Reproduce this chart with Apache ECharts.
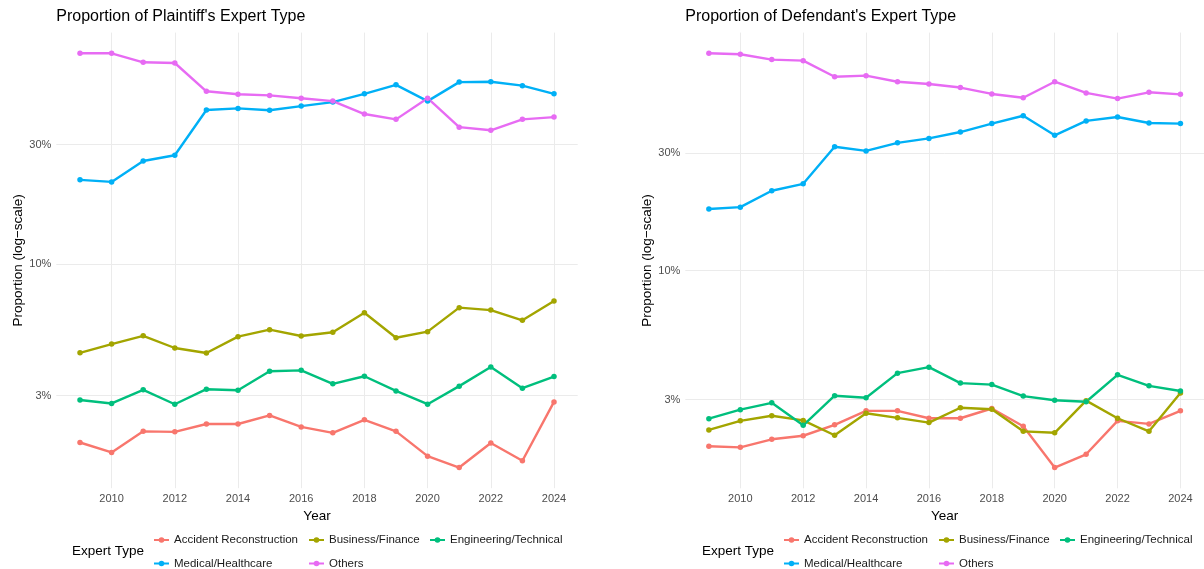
<!DOCTYPE html>
<html>
<head>
    <meta charset="UTF-8">
    <title>Expert Type Proportions</title>
    <script src="https://cdn.jsdelivr.net/npm/echarts@6/dist/echarts.min.js"></script>
</head>
<body style="margin: 0">
<div id="container" style="width: 1204px; height: 569px"></div>
<script>
    // data (percent)
    var years = [2009, 2010, 2011, 2012, 2013, 2014, 2015, 2016, 2017, 2018, 2019, 2020, 2021, 2022, 2023, 2024];
    var yearTicks = [2010, 2012, 2014, 2016, 2018, 2020, 2022, 2024];
    var propTicks = [3, 10, 30];
    var typeNames = ['Accident Reconstruction', 'Business/Finance', 'Engineering/Technical', 'Medical/Healthcare', 'Others'];
    var typeColors = ['#F8766D', '#A3A500', '#00BF7D', '#00B0F6', '#E76BF3'];

    var plaintiffAccident = [1.95, 1.78, 2.16, 2.15, 2.31, 2.31, 2.50, 2.25, 2.13, 2.40, 2.16, 1.72, 1.55, 1.94, 1.65, 2.83];
    var plaintiffBusiness = [4.44, 4.81, 5.19, 4.64, 4.43, 5.15, 5.49, 5.18, 5.36, 6.41, 5.10, 5.39, 6.72, 6.57, 5.98, 7.14];
    var plaintiffEngineering = [2.88, 2.79, 3.16, 2.77, 3.18, 3.15, 3.75, 3.78, 3.34, 3.58, 3.13, 2.77, 3.27, 3.90, 3.21, 3.57];
    var plaintiffMedical = [21.7, 21.3, 25.8, 27.2, 41.2, 41.8, 41.1, 42.7, 44.3, 47.8, 51.9, 44.7, 53.2, 53.4, 51.5, 47.8];
    var plaintiffOthers = [69.3, 69.3, 63.8, 63.4, 48.9, 47.6, 47.1, 45.9, 44.7, 39.7, 37.8, 45.9, 35.2, 34.2, 37.8, 38.6];

    var defendantAccident = [1.94, 1.92, 2.07, 2.14, 2.37, 2.70, 2.70, 2.52, 2.52, 2.76, 2.34, 1.59, 1.80, 2.46, 2.39, 2.70];
    var defendantBusiness = [2.26, 2.46, 2.58, 2.47, 2.15, 2.64, 2.53, 2.42, 2.78, 2.74, 2.23, 2.20, 2.97, 2.52, 2.23, 3.19];
    var defendantEngineering = [2.51, 2.73, 2.91, 2.36, 3.11, 3.05, 3.84, 4.06, 3.50, 3.45, 3.10, 2.98, 2.94, 3.78, 3.41, 3.25];
    var defendantMedical = [17.8, 18.1, 21.1, 22.5, 31.8, 30.6, 33.0, 34.4, 36.5, 39.5, 42.5, 35.4, 40.5, 42.0, 39.7, 39.5];
    var defendantOthers = [76.2, 75.5, 71.8, 71.1, 61.2, 61.8, 58.4, 57.2, 55.3, 52.1, 50.3, 58.4, 52.6, 49.9, 52.9, 51.9];

    var panels = [
        {
            title: "Proportion of Plaintiff's Expert Type",
            series: [plaintiffAccident, plaintiffBusiness, plaintiffEngineering, plaintiffMedical, plaintiffOthers],
            grid: {left: 56.3, top: 32.6, width: 521.4, height: 455.6},
            yMin: 1.282, yMax: 83.8,
            dx: 0
        },
        {
            title: "Proportion of Defendant's Expert Type",
            series: [defendantAccident, defendantBusiness, defendantEngineering, defendantMedical, defendantOthers],
            grid: {left: 685.3, top: 32.6, width: 521.1, height: 455.7},
            yMin: 1.31, yMax: 92.4,
            dx: 630
        }
    ];

    var fontFamily = '"Liberation Sans", Arial, sans-serif';
    var legendCols = [153, 308, 429];
    var legendRows = [534, 557.5];
    var legendSlots = [[0, 0], [1, 0], [2, 0], [0, 1], [1, 1]];

    var grids = [], xAxes = [], yAxes = [], series = [], titles = [], legends = [];

    panels.forEach(function (p, k) {
        grids.push(p.grid);
        xAxes.push({
            type: 'value',
            gridIndex: k,
            min: 2008.25,
            max: 2024.75,
            axisLine: {show: false},
            axisTick: {show: false, customValues: yearTicks},
            axisLabel: {
                customValues: yearTicks,
                color: '#4d4d4d',
                fontSize: 11,
                margin: 5,
                formatter: function (v) { return String(v); }
            },
            splitLine: {show: true, lineStyle: {color: '#ebebeb', width: 1}},
            name: 'Year',
            nameLocation: 'middle',
            nameGap: 19,
            nameTextStyle: {color: '#000', fontSize: 13.5}
        });
        yAxes.push({
            type: 'log',
            logBase: 10,
            gridIndex: k,
            min: p.yMin,
            max: p.yMax,
            axisLine: {show: false},
            axisTick: {show: false},
            axisLabel: {show: false},
            splitLine: {show: false},
            name: 'Proportion (log\u2212scale)',
            nameLocation: 'middle',
            nameGap: 31,
            nameTextStyle: {color: '#000', fontSize: 13.5}
        });

        // horizontal grid lines and % labels at 3, 10, 30
        series.push({
            type: 'line',
            xAxisIndex: k,
            yAxisIndex: k,
            data: [],
            silent: true,
            z: 1,
            markLine: {
                silent: true,
                symbol: 'none',
                z: 1,
                animation: false,
                lineStyle: {color: '#ebebeb', width: 1, type: 'solid'},
                label: {
                    position: 'start',
                    distance: 5,
                    color: '#4d4d4d',
                    fontSize: 11,
                    formatter: function (prm) { return prm.value + '%'; }
                },
                emphasis: {disabled: true},
                data: propTicks.map(function (v) { return {yAxis: v}; })
            }
        });

        p.series.forEach(function (vals, i) {
            series.push({
                name: typeNames[i],
                type: 'line',
                xAxisIndex: k,
                yAxisIndex: k,
                data: years.map(function (y, j) { return [y, vals[j]]; }),
                symbol: 'circle',
                symbolSize: 5.5,
                z: 3,
                lineStyle: {width: 2.4, color: typeColors[i]},
                itemStyle: {color: typeColors[i]},
                emphasis: {disabled: true}
            });
        });

        titles.push({
            text: p.title,
            left: p.grid.left,
            top: 9,
            padding: 0,
            textStyle: {fontSize: 16, fontWeight: 'normal', color: '#000', fontFamily: fontFamily}
        });
        titles.push({
            text: 'Expert Type',
            left: 72 + p.dx,
            top: 544,
            padding: 0,
            textStyle: {fontSize: 13.5, fontWeight: 'normal', color: '#000', fontFamily: fontFamily}
        });

        typeNames.forEach(function (name, i) {
            legends.push({
                data: [name],
                left: legendCols[legendSlots[i][0]] + p.dx,
                top: legendRows[legendSlots[i][1]],
                padding: 0,
                itemWidth: 15,
                itemHeight: 7,
                selectedMode: false,
                textStyle: {fontSize: 11.5, color: '#1a1a1a', fontFamily: fontFamily}
            });
        });
    });

    var myChart = echarts.init(document.getElementById('container'));
    myChart.setOption({
        animation: false,
        backgroundColor: '#fff',
        textStyle: {fontFamily: fontFamily},
        title: titles,
        legend: legends,
        grid: grids,
        xAxis: xAxes,
        yAxis: yAxes,
        series: series
    });
</script>
</body>
</html>
